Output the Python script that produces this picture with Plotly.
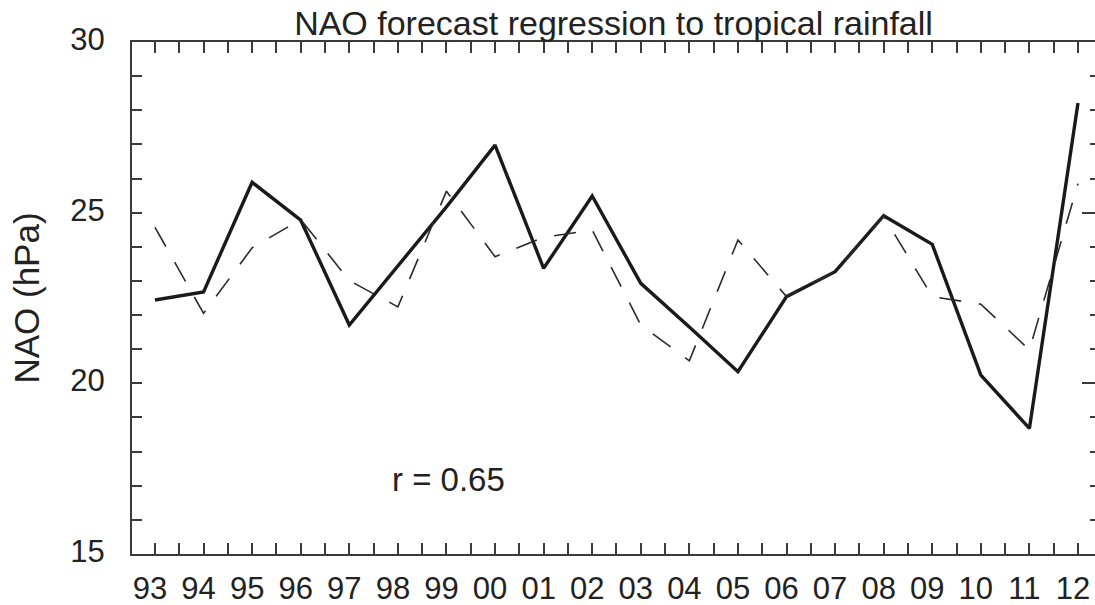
import plotly.graph_objects as go

years = ["93", "94", "95", "96", "97", "98", "99", "00", "01", "02",
         "03", "04", "05", "06", "07", "08", "09", "10", "11", "12"]
observed = [22.44, 22.68, 25.89, 24.78, 21.71, 23.44, 25.17, 26.98, 23.37, 25.49,
            22.93, 21.65, 20.34, 22.54, 23.27, 24.91, 24.07, 20.24, 18.68, 28.21]
forecast = [24.57, 22.05, 23.97, 24.80, 23.01, 22.24, 25.63, 23.71, 24.28, 24.49,
            21.71, 20.66, 24.20, 22.54, 23.27, 24.90, 22.54, 22.32, 20.98, 25.85]

idx = list(range(len(years)))
FONT = "Liberation Sans, Arial, Helvetica, sans-serif"
INK = "#222222"
AX = "#3a3a3a"

fig = go.Figure()
fig.add_trace(go.Scatter(x=idx, y=forecast, mode="lines", yaxis="y2",
                         line=dict(color="#2a2a2a", width=1.6, dash="22px,18px"),
                         showlegend=False, hoverinfo="skip"))
fig.add_trace(go.Scatter(x=idx, y=observed, mode="lines",
                         line=dict(color="#1a1a1a", width=3.4),
                         showlegend=False, hoverinfo="skip"))

fig.add_annotation(x=4.84, y=17.17, xref="x", yref="y", text="r = 0.65",
                   showarrow=False, xanchor="left", yanchor="middle",
                   font=dict(family=FONT, size=33, color=INK))

fig.update_layout(
    width=1095, height=605,
    margin=dict(l=132, r=0, t=42, b=51, autoexpand=False),
    paper_bgcolor="white", plot_bgcolor="white",
    font=dict(family=FONT, color=INK),
    title=dict(text="NAO forecast regression to tropical rainfall",
               x=0.5, xref="paper", xanchor="center",
               y=1, yref="paper", yanchor="bottom", pad=dict(b=7),
               font=dict(family=FONT, size=34, color=INK)),
    xaxis=dict(range=[-0.473, 19.35], tickmode="array", tickvals=idx, ticktext=years,
               ticks="inside", ticklen=11, tickwidth=2, tickcolor=AX,
               minor=dict(tickmode="linear", tick0=0.5, dtick=1, ticks="inside",
                          ticklen=11, tickwidth=2, tickcolor=AX),
               showline=True, linecolor=AX, linewidth=2, mirror="allticks",
               showgrid=False, zeroline=False, automargin=False,
               tickfont=dict(family=FONT, size=31, color=INK),
               ticklabelstandoff=6, ticklabelshift=-5),
    yaxis=dict(range=[15, 30], tickmode="linear", tick0=15, dtick=5,
               ticks="inside", ticklen=10, tickwidth=2, tickcolor=AX,
               minor=dict(tickmode="linear", tick0=15, dtick=1, ticks="inside",
                          ticklen=10, tickwidth=2, tickcolor=AX),
               showline=True, linecolor=AX, linewidth=2, mirror=False,
               showgrid=False, zeroline=False, automargin=False,
               tickfont=dict(family=FONT, size=31, color=INK),
               ticklabelstandoff=19, ticklabelshift=-3,
               title=dict(text="NAO (hPa)", standoff=20,
                          font=dict(family=FONT, size=35, color=INK))),
    yaxis2=dict(range=[15, 30], overlaying="y", side="right",
                tickmode="linear", tick0=15, dtick=5,
                ticks="inside", ticklen=13, tickwidth=2, tickcolor=AX,
                minor=dict(tickmode="linear", tick0=15, dtick=1, ticks="inside",
                           ticklen=5, tickwidth=2, tickcolor=AX),
                showline=False, showgrid=False, zeroline=False, automargin=False,
                showticklabels=False),
)

fig.write_html("out.html",
               config={"displayModeBar": False},
               post_script="document.body.style.margin='0';"
                           "document.body.style.overflow='hidden';")
